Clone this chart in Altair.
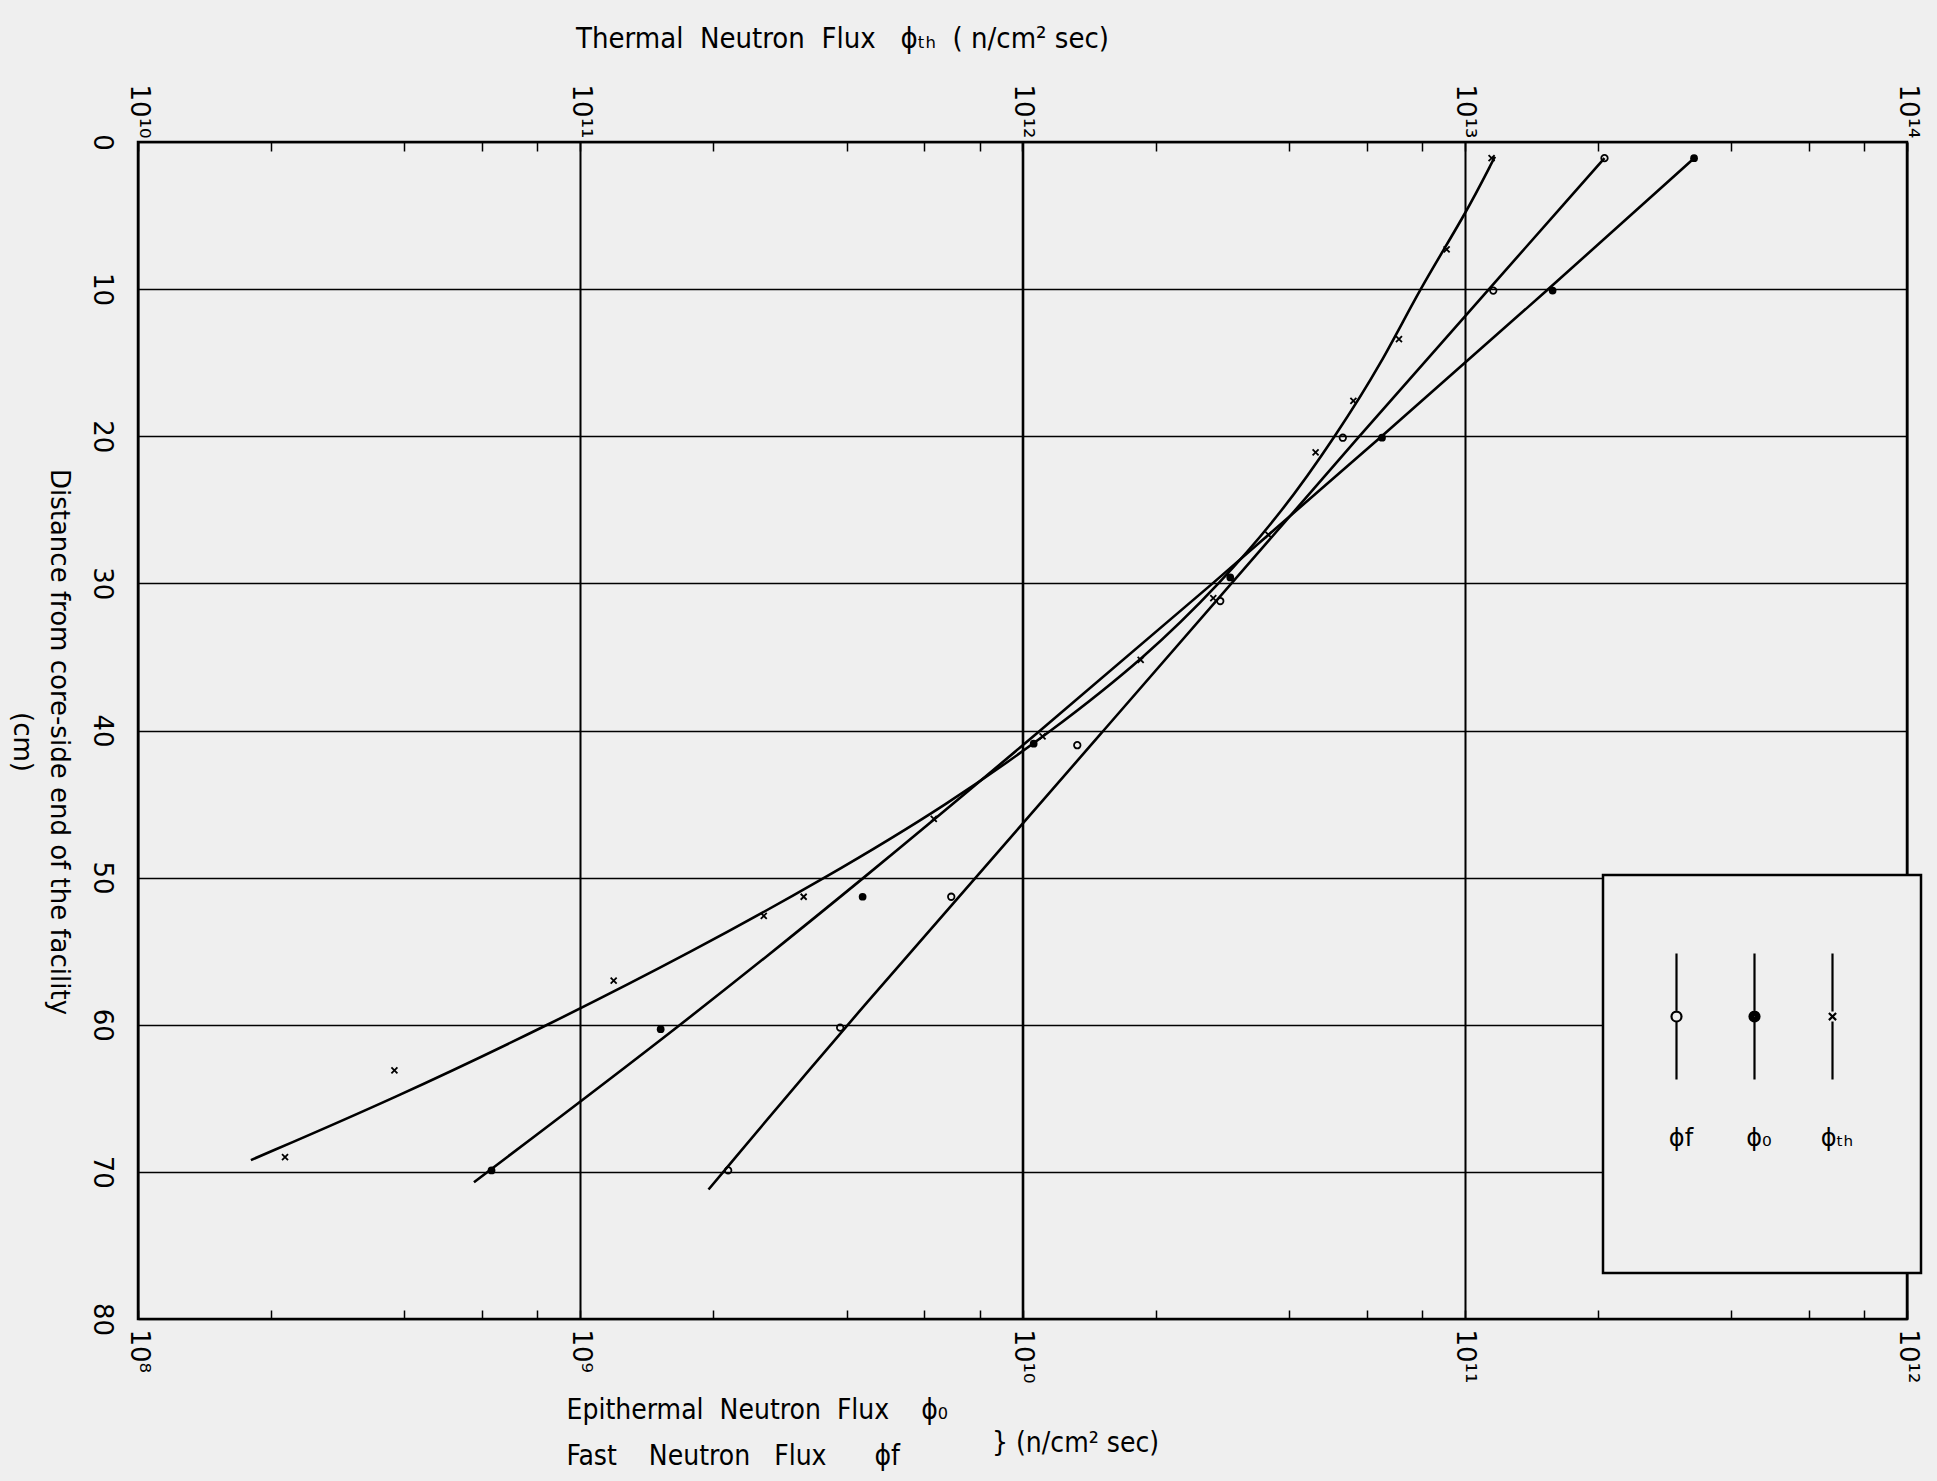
import altair as alt
import pandas as pd

# ---------------- values ----------------
# Thermal neutron flux (top axis, n/cm^2 sec) -- measured points
thermal_dist = [1.1, 7.3, 13.4, 17.6, 21.1, 26.7, 31.0, 35.2, 40.4, 46.0, 51.3, 52.6, 57.0, 63.1, 69.0]
thermal_flux = [1.15e13, 9.1e12, 7.1e12, 5.6e12, 4.6e12, 3.6e12, 2.7e12, 1.85e12, 1.11e12,
                6.3e11, 3.2e11, 2.6e11, 1.19e11, 3.8e10, 2.15e10]
# Thermal -- hand-drawn curve
thermal_curve_dist = [1.0, 5, 10, 15, 20, 25, 30, 35, 40, 45, 50, 55, 60, 65, 69.2]
thermal_curve_flux = [1.17e13, 1.0e13, 7.9e12, 6.5e12, 5.1e12, 3.9e12, 2.8e12, 1.9e12, 1.17e12,
                      6.8e11, 3.6e11, 1.8e11, 8.5e10, 3.8e10, 1.8e10]

# Epithermal neutron flux (bottom axis) -- measured points and curve
epi_dist = [1.1, 10.1, 20.1, 29.6, 40.9, 51.3, 60.3, 69.9]
epi_flux = [3.3e11, 1.58e11, 6.5e10, 2.95e10, 1.06e10, 4.35e9, 1.52e9, 6.3e8]
epi_curve_dist = [1.1, 10, 20, 30, 40, 50, 60, 70.7]
epi_curve_flux = [3.3e11, 1.55e11, 6.5e10, 2.7e10, 1.1e10, 4.4e9, 1.7e9, 5.75e8]

# Fast neutron flux (bottom axis) -- measured points and curve
fast_dist = [1.1, 10.1, 20.1, 31.2, 41.0, 51.3, 60.2, 69.9]
fast_flux = [2.07e11, 1.16e11, 5.3e10, 2.8e10, 1.33e10, 6.9e9, 3.87e9, 2.16e9]
fast_curve_dist = [1.1, 20, 40, 60, 71.2]
fast_curve_flux = [2.07e11, 5.75e10, 1.53e10, 4.0e9, 1.95e9]

# Axis ticks and labels
bottom_decades = [1e8, 1e9, 1e10, 1e11, 1e12]
bottom_labels = ["10⁸", "10⁹", "10¹⁰", "10¹¹", "10¹²"]
top_decades = [1e10, 1e11, 1e12, 1e13, 1e14]
top_labels = ["10¹⁰", "10¹¹", "10¹²", "10¹³", "10¹⁴"]
minor_steps = [2, 4, 6, 8]
distance_ticks = [0, 10, 20, 30, 40, 50, 60, 70, 80]

legend_keys = ["ϕf", "ϕ₀", "ϕₜₕ"]

# ---------------- styling ----------------
BG = "#efefef"
INK = "black"
SANS = "DejaVu Sans"
NARROW = "'DejaVu Sans Condensed', 'Liberation Sans Narrow', 'DejaVu Sans'"
NB = "\u00a0"

W, H = 1769, 1177


def tick_values(decades):
    vals = list(decades)
    for d in decades[:-1]:
        vals += [m * d for m in minor_steps]
    return sorted(vals)


def label_expr(values, labels):
    return " : ".join(f"datum.value == {v!r} ? '{l}'" for v, l in zip(values, labels)) + " : ''"


def decade_test(values):
    return "indexof([" + ",".join(repr(v) for v in values) + "], datum.value) >= 0"


y_scale = alt.Scale(domain=[0, 80], reverse=True, nice=False, zero=False)
y_axis = alt.Axis(
    orient="left", values=distance_ticks, labelAngle=90, labelAlign="center", labelBaseline="top",
    labelPadding=24, labelFont=SANS, labelFontSize=26, labelColor=INK, labelFlush=False,
    ticks=False, domain=False, grid=True, gridColor=INK, gridWidth=1.6,
    title=["Distance from core-side end of the facility", "(cm)"], titleAngle=90,
    titleX=-80, titleY=H / 2 + 11, titleAlign="center", titleBaseline="middle",
    titleLineHeight=37, titleFont=SANS, titleFontSize=26, titleFontWeight="normal", titleColor=INK,
)

bx_scale = alt.Scale(type="log", domain=[bottom_decades[0], bottom_decades[-1]], nice=False)
tx_scale = alt.Scale(type="log", domain=[top_decades[0], top_decades[-1]], nice=False)

bottom_axis = alt.Axis(
    orient="bottom", values=tick_values(bottom_decades), labelExpr=label_expr(bottom_decades, bottom_labels),
    labelAngle=90, labelAlign="left", labelBaseline="middle", labelPadding=10,
    labelFont=SANS, labelFontSize=26, labelColor=INK, labelFlush=False, labelOverlap=False,
    tickSize=9, tickColor=INK, tickWidth=1.5, offset=-9, domain=False,
    grid=True, gridColor=INK, gridWidth=1.6,
    gridOpacity={"condition": {"test": decade_test(bottom_decades), "value": 1}, "value": 0},
    title=[f"Epithermal{NB}{NB}Neutron{NB}{NB}Flux{NB}{NB}{NB}{NB}ϕ₀",
           f"Fast{NB}{NB}{NB}{NB}Neutron{NB}{NB}{NB}Flux{NB}{NB}{NB}{NB}{NB}{NB}ϕf"],
    titleFont=NARROW, titleFontSize=28, titleFontWeight="normal", titleColor=INK,
    titleAlign="left", titleAnchor="start", titleX=428, titleY=86, titleBaseline="top", titleLineHeight=46,
)

top_axis = alt.Axis(
    orient="top", values=tick_values(top_decades), labelExpr=label_expr(top_decades, top_labels),
    labelAngle=90, labelAlign="right", labelBaseline="middle", labelPadding=4,
    labelFont=SANS, labelFontSize=26, labelColor=INK, labelFlush=False, labelOverlap=False,
    tickSize=9, tickColor=INK, tickWidth=1.5, offset=-9, domain=False,
    grid=True, gridColor=INK, gridWidth=1.6,
    gridOpacity={"condition": {"test": decade_test(top_decades), "value": 1}, "value": 0},
    title=f"Thermal{NB}{NB}Neutron{NB}{NB}Flux{NB}{NB}{NB}ϕₜₕ{NB}{NB}({NB}n/cm² sec)",
    titleFont=NARROW, titleFontSize=29, titleFontWeight="normal", titleColor=INK,
    titleAlign="center", titleX=704, titleY=-113, titleBaseline="middle",
)


def df(d, f):
    return pd.DataFrame({"d": d, "flux": f})


def curve(data, xscale, xaxis):
    return alt.Chart(data).mark_line(color=INK, strokeWidth=2.6, interpolate="basis").encode(
        x=alt.X("flux:Q", scale=xscale, axis=xaxis),
        y=alt.Y("d:Q", scale=y_scale, axis=y_axis),
        order=alt.Order("d:Q"),
    )


def points(data, xscale, xaxis, **mark):
    return alt.Chart(data).mark_point(color=INK, opacity=1, **mark).encode(
        x=alt.X("flux:Q", scale=xscale, axis=xaxis),
        y=alt.Y("d:Q", scale=y_scale, axis=y_axis),
    )


X_PATH = "M-1,-1L1,1M-1,1L1,-1"

th_line = curve(df(thermal_curve_dist, thermal_curve_flux), tx_scale, top_axis)
th_pts = points(df(thermal_dist, thermal_flux), tx_scale, top_axis, shape=X_PATH, size=36, strokeWidth=1.8)

ep_line = curve(df(epi_curve_dist, epi_curve_flux), bx_scale, bottom_axis)
ep_pts = points(df(epi_dist, epi_flux), bx_scale, bottom_axis, shape="circle", filled=True, size=60)

fa_line = curve(df(fast_curve_dist, fast_curve_flux), bx_scale, bottom_axis)
fa_pts = points(df(fast_dist, fast_flux), bx_scale, bottom_axis, shape="circle", filled=False,
                size=42, strokeWidth=1.8)

# Legend key glyphs: vertical line sample with the marker in its middle (label sits beneath).
# The zero-length segments only widen the key's box and draw nothing.
KEY_LINE = "M1.05,-8.65L1.05,-5.8M1.05,-5.2L1.05,-2.35M1.05,5.55L1.05,5.55"
RING = "M{a},-5.5A{r},{r} 0 1,0 {b},-5.5A{r},{r} 0 1,0 {a},-5.5Z"
OPEN_KEY = KEY_LINE + RING.format(a=0.8, b=1.3, r=0.25)
DOT_KEY = KEY_LINE + "".join(RING.format(a=round(1.05 - r, 3), b=round(1.05 + r, 3), r=r)
                             for r in (0.25, 0.17, 0.1, 0.04))
CROSS_KEY = ("M1.05,-8.65L1.05,-5.75M1.05,-5.25L1.05,-2.35M1.05,5.55L1.05,5.55M3.7,-5.5L3.7,-5.5"
             "M0.87,-5.68L1.23,-5.32M0.87,-5.32L1.23,-5.68")
legend_paths = [OPEN_KEY, DOT_KEY, CROSS_KEY]

leg = alt.Legend(
    title=NB, titleFontSize=194, titlePadding=5, titleFont=SANS,
    orient="none", legendX=1465, legendY=733, direction="horizontal", columns=3,
    strokeColor=INK, fillColor=BG, padding=31, columnPadding=18,
    symbolSize=1600, symbolStrokeColor=INK, symbolStrokeWidth=2.2, symbolOpacity=1,
    symbolFillColor=BG,
    labelFont=SANS, labelFontSize=24, labelColor=INK, labelAlign="center", labelBaseline="top",
)
legend_layer = alt.Chart(pd.DataFrame({"series": legend_keys})).mark_point(
    color=INK, stroke=INK, strokeWidth=2.2, filled=False
).encode(
    shape=alt.Shape("series:N", scale=alt.Scale(domain=legend_keys, range=legend_paths), legend=leg),
).transform_filter("false")

bottom_group = alt.layer(ep_line, fa_line, ep_pts, fa_pts, legend_layer)
top_group = alt.layer(th_line, th_pts)

chart = (
    alt.layer(bottom_group, top_group)
    .resolve_scale(x="independent")
    .resolve_axis(x="independent")
    .properties(
        width=W, height=H, background=BG,
        padding={"left": 138, "top": 142, "right": 30, "bottom": 162},
        autosize=alt.AutoSizeParams(type="none"),
        title=alt.TitleParams(
            text=f"}}{NB}(n/cm² sec)", orient="bottom", anchor="start", frame="group",
            dx=854, offset=-40, font=NARROW, fontSize=28, fontWeight="normal", color=INK,
        ),
    )
    .configure_view(stroke=INK, strokeWidth=2.5)
    .configure_legend(strokeWidth=2.5)
)

chart.save("out.html", embed_options={"renderer": "svg", "actions": False})
